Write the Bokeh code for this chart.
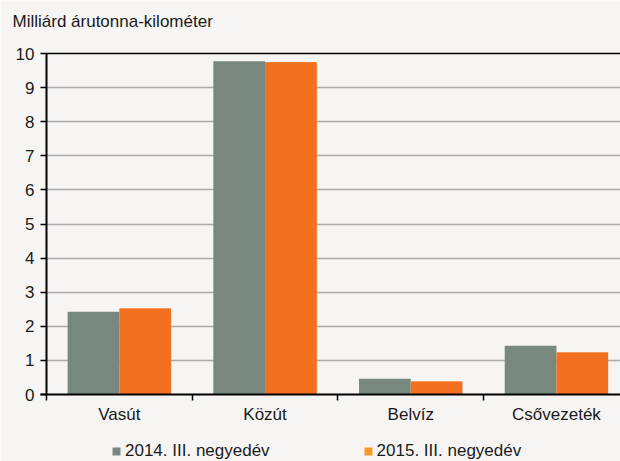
from bokeh.plotting import figure
from bokeh.models import Range1d, FixedTicker, Grid, Label, Legend, LegendItem, ColumnDataSource
from bokeh.embed import file_html
from bokeh.resources import INLINE

categories = ["Vasút", "Közút", "Belvíz", "Csővezeték"]
series_names = ["2014. III. negyedév", "2015. III. negyedév"]
values_2014 = [2.43, 9.77, 0.46, 1.43]
values_2015 = [2.52, 9.74, 0.38, 1.23]
y_ticks = [0, 1, 2, 3, 4, 5, 6, 7, 8, 9, 10]
title_text = "Milliárd árutonna-kilométer"

BG = "#f6f5f3"
GRAY = "#78887f"
ORANGE = "#f37021"
ORANGE_LEG = "#f7962b"
FONT = "Liberation Sans"
FS = "17px"

W, H = 620, 461
AX_X, AX_Y = 46, 394          # pixel position of the axes origin
PX_CAT, PX_UNIT = 145.7, 34.1  # pixels per category / per y unit
x_end = (W - AX_X) / PX_CAT

p = figure(width=W, height=H, output_backend="svg", toolbar_location=None,
           x_range=Range1d(-AX_X / PX_CAT, x_end),
           y_range=Range1d(-(H - AX_Y) / PX_UNIT, AX_Y / PX_UNIT),
           min_border=0)
p.background_fill_color = BG
p.border_fill_color = BG
p.outline_line_color = None

xs = list(range(len(categories)))
bw = 0.355
src1 = ColumnDataSource(dict(x=[i + 0.5 - bw / 2 for i in xs], top=values_2014))
src2 = ColumnDataSource(dict(x=[i + 0.5 + bw / 2 for i in xs], top=values_2015))
r1 = p.vbar(x="x", top="top", width=bw, bottom=0, source=src1, fill_color=GRAY, line_color=None)
# lighter-orange copy (hidden beneath the real bars) used only for the legend swatch
g2 = p.vbar(x="x", top="top", width=bw * 0.98, bottom=0, source=src2, fill_color=ORANGE_LEG, line_color=None)
r2 = p.vbar(x="x", top="top", width=bw, bottom=0, source=src2, fill_color=ORANGE, line_color=None)

# axes drawn inside the frame at the origin
tick_px = 6
p.xaxis.fixed_location = 0
p.xaxis.bounds = (-tick_px / PX_CAT, x_end)
p.xaxis.ticker = FixedTicker(ticks=[i + 0.5 for i in xs], minor_ticks=list(range(len(categories) + 1)))
p.xaxis.major_label_overrides = {i + 0.5: c for i, c in zip(xs, categories)}
p.xaxis.major_tick_line_color = None
p.xaxis.minor_tick_out = tick_px
p.xaxis.minor_tick_in = 0
p.xaxis.minor_tick_line_color = "#000000"
p.xaxis.minor_tick_line_width = 1.5
p.xaxis.axis_line_color = "#000000"
p.xaxis.axis_line_width = 2
p.xaxis.major_label_text_font = FONT
p.xaxis.major_label_text_font_size = FS
p.xaxis.major_label_text_color = "#1a1a1a"
p.xaxis.major_label_standoff = 4

p.yaxis.fixed_location = 0
p.yaxis.ticker = FixedTicker(ticks=y_ticks)
p.yaxis.bounds = (0, 10)
p.yaxis.major_tick_out = tick_px
p.yaxis.major_tick_in = 0
p.yaxis.minor_tick_line_color = None
p.yaxis.major_tick_line_color = "#000000"
p.yaxis.major_tick_line_width = 1.5
p.yaxis.axis_line_color = "#000000"
p.yaxis.axis_line_width = 2
p.yaxis.major_label_text_font = FONT
p.yaxis.major_label_text_font_size = FS
p.yaxis.major_label_text_color = "#1a1a1a"
p.yaxis.major_label_standoff = 6

p.xgrid.grid_line_color = None
p.ygrid.ticker = FixedTicker(ticks=y_ticks[1:-1])
p.ygrid.grid_line_color = "#a9a9a9"
p.ygrid.grid_line_width = 1.5
p.ygrid.cross_bounds = (0, x_end)

top_grid = Grid(dimension=1, ticker=FixedTicker(ticks=[y_ticks[-1]]),
                grid_line_color="#000000", grid_line_width=1.5,
                cross_bounds=(0, x_end))
p.add_layout(top_grid)

# title as label in the top-left corner
p.add_layout(Label(x=(12 - AX_X) / PX_CAT, y=(AX_Y - 21) / PX_UNIT, text=title_text,
                   text_font=FONT, text_font_size=FS, text_color="#1a1a1a",
                   text_baseline="middle", text_align="left"))

legend = Legend(items=[LegendItem(label=series_names[0], renderers=[r1]),
                       LegendItem(label=series_names[1], renderers=[g2])],
                orientation="horizontal", location=(111, 0))
legend.background_fill_alpha = 0
legend.border_line_color = None
legend.label_text_font = FONT
legend.label_text_font_size = FS
legend.label_text_color = "#1a1a1a"
legend.glyph_width = 10
legend.glyph_height = 10
legend.label_standoff = 4
legend.spacing = 93
legend.padding = 0
legend.margin = 0
legend.label_height = 14
p.add_layout(legend, "center")

open("out.html", "w").write(file_html(p, INLINE))
